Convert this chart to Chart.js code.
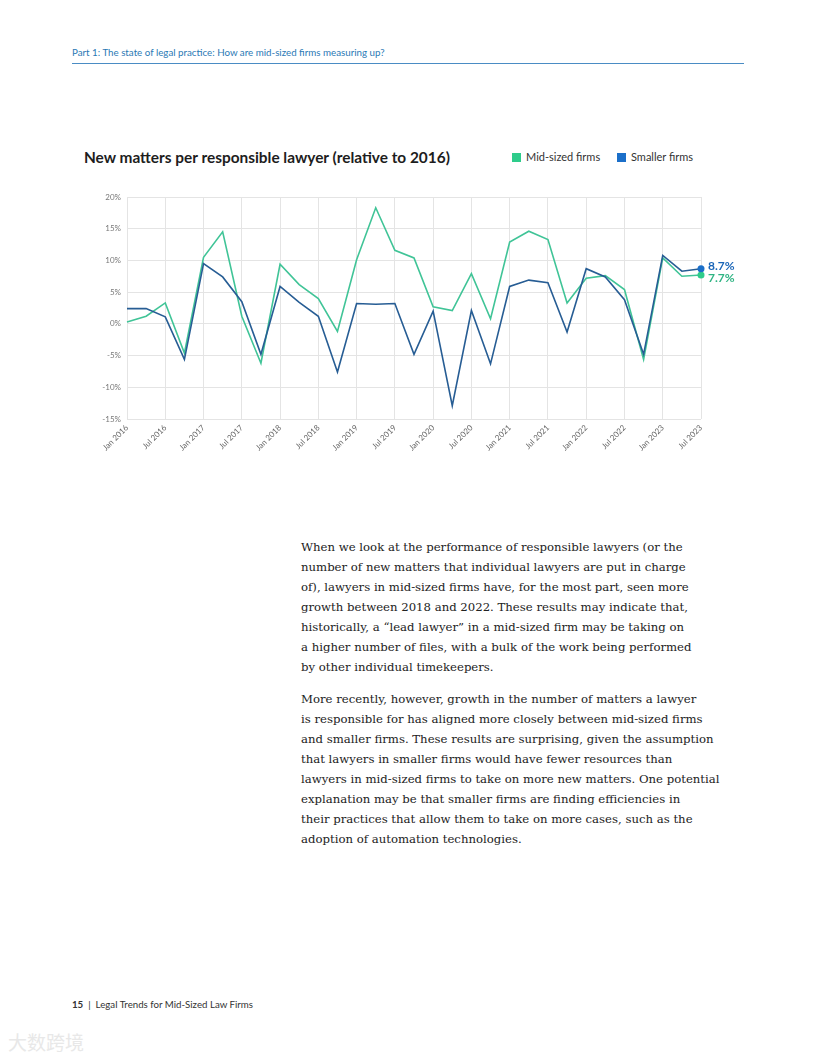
<!DOCTYPE html>
<html>
<head>
<meta charset="utf-8">
<script src="https://cdn.jsdelivr.net/npm/chart.js@4.4.1/dist/chart.umd.min.js"></script>
<style>
  html, body { margin: 0; padding: 0; background: #fff; }
  body { width: 816px; height: 1056px; position: relative; overflow: hidden; font-family: "Lato", "Open Sans", sans-serif; }
  .header { position: absolute; left: 72px; top: 46px; font-size: 9.75px; color: #2a79b5; white-space: nowrap; }
  .rule { position: absolute; left: 72px; top: 63px; width: 672px; height: 0; border-top: 1px solid #4a8cc4; }
  .title { position: absolute; left: 84px; top: 148px; font-size: 15.4px; font-weight: 700; color: #1d1d1d; white-space: nowrap; }
  .legend { position: absolute; top: 150px; font-size: 11px; color: #333; white-space: nowrap; }
  .legend span.sw { display: inline-block; width: 9px; height: 9px; vertical-align: -1px; margin-right: 5px; }
  #wrap { position: absolute; left: 80px; top: 185px; width: 680px; height: 290px; }
  .body { position: absolute; left: 301px; font-family: "DejaVu Serif", "Liberation Serif", serif; font-size: 11.7px; line-height: 20px; color: #222; white-space: nowrap; }
  .footer { position: absolute; left: 72px; top: 998px; font-size: 9.7px; color: #333; white-space: nowrap; }
  .footer b { font-weight: 700; }
  .mark { position: absolute; left: 8px; top: 1028px; font-family: "Noto Sans CJK SC", sans-serif; font-size: 19px; color: #e8e8e8; }
</style>
</head>
<body>
<div class="header">Part 1: The state of legal practice: How are mid-sized firms measuring up?</div>
<div class="rule"></div>

<div class="title">New matters per responsible lawyer (relative to 2016)</div>
<div class="legend" style="left:512px"><span class="sw" style="background:#2ecc8b"></span>Mid-sized firms</div>
<div class="legend" style="left:617px"><span class="sw" style="background:#1b6fc9"></span>Smaller firms</div>

<div id="wrap"><canvas id="mattersChart"></canvas></div>

<div class="body" style="top:537px">
When we look at the performance of responsible lawyers (or the<br>
number of new matters that individual lawyers are put in charge<br>
of), lawyers in mid-sized firms have, for the most part, seen more<br>
growth between 2018 and 2022. These results may indicate that,<br>
historically, a “lead lawyer” in a mid-sized firm may be taking on<br>
a higher number of files, with a bulk of the work being performed<br>
by other individual timekeepers.
</div>
<div class="body" style="top:689px">
More recently, however, growth in the number of matters a lawyer<br>
is responsible for has aligned more closely between mid-sized firms<br>
and smaller firms. These results are surprising, given the assumption<br>
that lawyers in smaller firms would have fewer resources than<br>
lawyers in mid-sized firms to take on more new matters. One potential<br>
explanation may be that smaller firms are finding efficiencies in<br>
their practices that allow them to take on more cases, such as the<br>
adoption of automation technologies.
</div>

<div class="footer"><b>15</b> &nbsp;|&nbsp; Legal Trends for Mid-Sized Law Firms</div>
<div class="mark">大数跨境</div>

<script>
// quarterly periods, Jan 2016 .. Jul 2023
const quarters = [
  'Jan 2016', 'Apr 2016', 'Jul 2016', 'Oct 2016',
  'Jan 2017', 'Apr 2017', 'Jul 2017', 'Oct 2017',
  'Jan 2018', 'Apr 2018', 'Jul 2018', 'Oct 2018',
  'Jan 2019', 'Apr 2019', 'Jul 2019', 'Oct 2019',
  'Jan 2020', 'Apr 2020', 'Jul 2020', 'Oct 2020',
  'Jan 2021', 'Apr 2021', 'Jul 2021', 'Oct 2021',
  'Jan 2022', 'Apr 2022', 'Jul 2022', 'Oct 2022',
  'Jan 2023', 'Apr 2023', 'Jul 2023'
];

// % change vs 2016
const midSized = [
  0.3, 1.2, 3.3, -4.6,
  10.5, 14.5, 1.2, -6.2,
  9.4, 6.2, 4.0, -1.2,
  10.1, 18.3, 11.6, 10.4,
  2.7, 2.1, 7.9, 0.8,
  12.9, 14.6, 13.3, 3.3,
  7.2, 7.6, 5.4, -5.6,
  10.4, 7.5, 7.7
];
const smaller = [
  2.4, 2.4, 1.1, -5.6,
  9.5, 7.4, 3.5, -4.8,
  5.9, 3.4, 1.2, -7.6,
  3.2, 3.1, 3.2, -4.8,
  2.0, -12.9, 2.1, -6.3,
  5.9, 6.9, 6.5, -1.3,
  8.7, 7.4, 3.8, -4.8,
  10.8, 8.3, 8.7
];

const yTicks = [-15, -10, -5, 0, 5, 10, 15, 20];

const lastIdx = quarters.length - 1;

// value labels at the end of each line
const endLabels = {
  id: 'endLabels',
  afterDatasetsDraw(chart) {
    const ctx = chart.ctx;
    chart.data.datasets.forEach((ds, i) => {
      const pt = chart.getDatasetMeta(i).data[lastIdx];
      if (!pt) return;
      ctx.save();
      ctx.font = '700 12px Lato, sans-serif';
      ctx.fillStyle = ds.labelColor;
      ctx.textBaseline = 'middle';
      ctx.fillText(ds.data[lastIdx].toFixed(1) + '%', pt.x + 7, pt.y + ds.labelShift);
      ctx.restore();
    });
  }
};

document.addEventListener('DOMContentLoaded', () => {
  const c = document.getElementById('mattersChart').getContext('2d');
  new Chart(c, {
    type: 'line',
    data: {
      labels: quarters,
      datasets: [
        {
          label: 'Smaller firms',
          data: smaller,
          borderColor: '#275d94',
          borderWidth: 1.6,
          tension: 0,
          pointRadius: ctx => ctx.dataIndex === lastIdx ? 3.5 : 0,
          pointBackgroundColor: '#1b6fc9',
          pointBorderWidth: 0,
          labelColor: '#1b66b8',
          labelShift: -3
        },
        {
          label: 'Mid-sized firms',
          data: midSized,
          borderColor: '#40c497',
          borderWidth: 1.6,
          tension: 0,
          pointRadius: ctx => ctx.dataIndex === lastIdx ? 3.5 : 0,
          pointBackgroundColor: '#2ecc8b',
          pointBorderWidth: 0,
          labelColor: '#2fb483',
          labelShift: 3
        }
      ]
    },
    options: {
      responsive: true,
      maintainAspectRatio: false,
      animation: false,
      layout: { padding: { top: 12, right: 59, left: 0, bottom: 0 } },
      plugins: {
        legend: { display: false },
        tooltip: { enabled: false }
      },
      scales: {
        x: {
          offset: false,
          grid: {
            color: ctx => ctx.index % 2 === 0 ? '#e4e4e4' : 'rgba(0,0,0,0)',
            drawTicks: false
          },
          border: { display: false },
          ticks: {
            autoSkip: false,
            maxRotation: 45,
            minRotation: 45,
            padding: 4,
            color: '#666',
            font: { family: 'Lato', size: 8 },
            callback: function (v, i) { return i % 2 === 0 ? this.getLabelForValue(v) : ''; }
          },
          afterFit: s => { s.height = 56; }
        },
        y: {
          min: -15,
          max: 20,
          afterBuildTicks: s => { s.ticks = yTicks.map(v => ({ value: v })); },
          grid: { color: '#e4e4e4', drawTicks: false },
          border: { display: false },
          ticks: {
            padding: 6,
            color: '#777',
            font: { family: 'Lato', size: 8 },
            callback: v => v + '%'
          },
          afterFit: s => { s.width = 47; }
        }
      }
    },
    plugins: [endLabels]
  });
});
</script>
</body>
</html>
